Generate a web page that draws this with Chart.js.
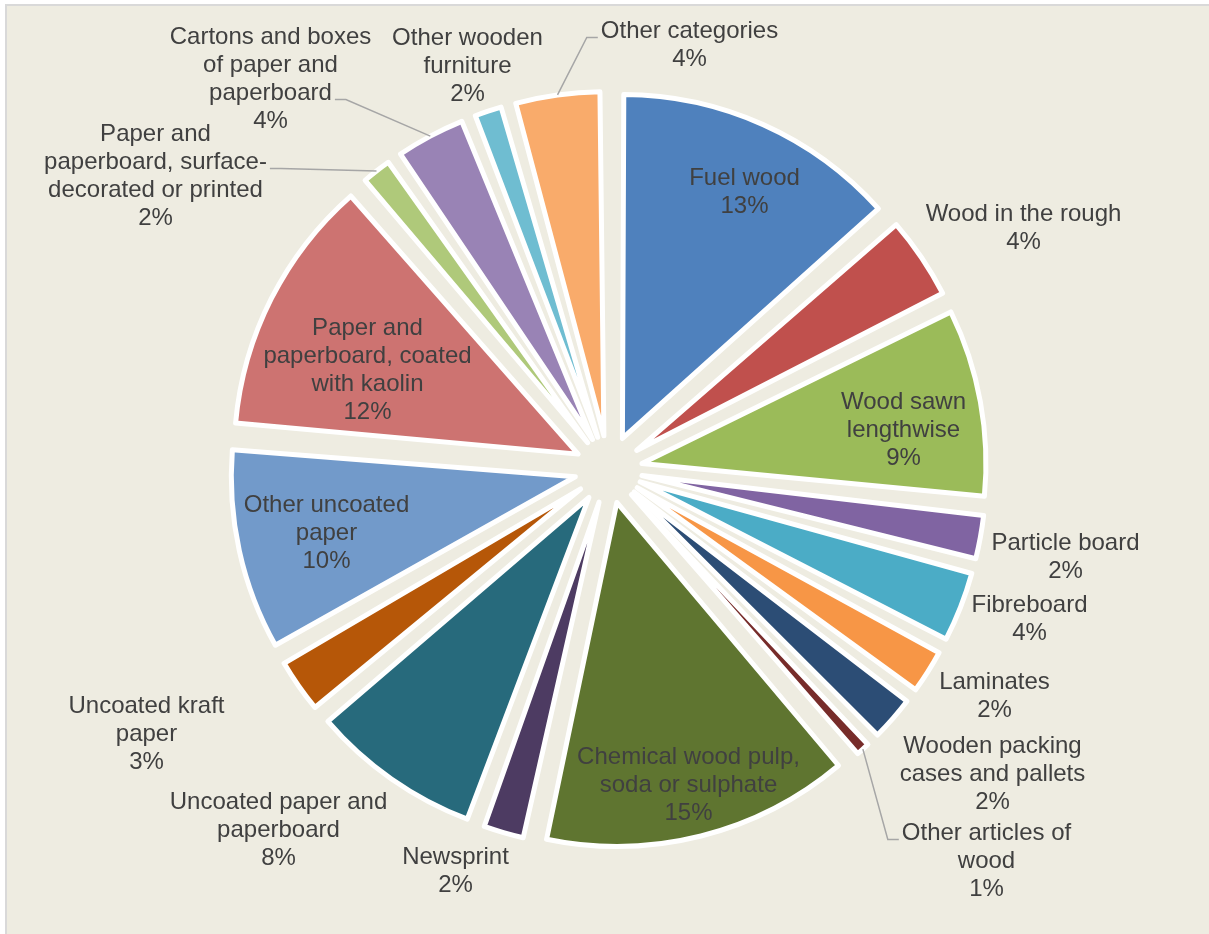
<!DOCTYPE html>
<html>
<head>
<meta charset="utf-8">
<script src="https://cdn.jsdelivr.net/npm/chart.js@4.4.1/dist/chart.umd.min.js"></script>
<style>
  html, body { margin: 0; padding: 0; background: #ffffff; }
  #frame { position: absolute; left: 5px; top: 4px; width: 1204px; height: 930px; box-sizing: border-box;
           border-left: 2px solid #d9d9d9; border-top: 2px solid #d9d9d9; background: #eeece1; }
  #pie { position: absolute; left: 0; top: 0; }
</style>
</head>
<body>
<div id="frame"></div>
<canvas id="pie" width="1209" height="934"></canvas>
<script>
// categories, clockwise from 12 o'clock (each entry = wrapped label lines)
const categories = [
  ['Fuel wood'],
  ['Wood in the rough'],
  ['Wood sawn', 'lengthwise'],
  ['Particle board'],
  ['Fibreboard'],
  ['Laminates'],
  ['Wooden packing', 'cases and pallets'],
  ['Other articles of', 'wood'],
  ['Chemical wood pulp,', 'soda or sulphate'],
  ['Newsprint'],
  ['Uncoated paper and', 'paperboard'],
  ['Uncoated kraft', 'paper'],
  ['Other uncoated', 'paper'],
  ['Paper and', 'paperboard, coated', 'with kaolin'],
  ['Paper and', 'paperboard, surface-', 'decorated or printed'],
  ['Cartons and boxes', 'of paper and', 'paperboard'],
  ['Other wooden', 'furniture'],
  ['Other categories']
];

// share of total, %
const shares = [13.4, 4.2, 9.0, 2.45, 3.65, 2.45, 2.49, 1.1, 14.5, 2.3, 8.2, 2.9, 9.6, 12.2, 1.8, 3.6, 1.7, 4.3];

const colours = ['#4f81bd', '#c0504d', '#9bbb59', '#8064a2', '#4bacc6', '#f79646', '#2c4d75', '#772c2a', '#5f7530',
                 '#4d3b62', '#276a7c', '#b65708', '#729aca', '#cd7371', '#afc97a', '#9983b5', '#6fbdd1', '#f9ab6b'];

// label block centre, relative to the pie centre
const labelOffsets = [
  [136, -277], [415, -241], [295, -39], [457, 88], [421, 150], [386, 227], [384, 305], [378, 392], [80, 316],
  [-153, 402], [-330, 361], [-462, 265], [-282, 64], [-241, -99], [-453, -293], [-338, -390], [-141, -403], [81, -424]
];

// leader lines: slice index -> which label line, and on which side of it
const leaders = { 7: { line: 0, side: 'left' }, 14: { line: 1, side: 'right' }, 15: { line: 2, side: 'right' }, 17: { line: 0, side: 'left' } };

const LINE = 28;

// chart.js grows small exploded slices; keep all radii equal
const evenRadius = {
  id: 'evenRadius',
  afterUpdate(chart) {
    const meta = chart.getDatasetMeta(0);
    const r = meta.controller.outerRadius;
    meta.data.forEach(arc => {
      const shift = (arc.options.offset || 0) / 4;
      const fix = 1 - Math.sin(Math.min(Math.PI, arc.circumference));
      arc.outerRadius = r - shift * fix;
    });
  }
};

const sliceLabels = {
  id: 'sliceLabels',
  afterDatasetsDraw(chart) {
    const ctx = chart.ctx;
    const meta = chart.getDatasetMeta(0);
    const R = meta.controller.outerRadius;
    const total = shares.reduce((a, b) => a + b, 0);
    ctx.save();
    ctx.font = '24px "Liberation Sans", Arial, sans-serif';
    ctx.textAlign = 'center';
    ctx.textBaseline = 'middle';
    meta.data.forEach((arc, i) => {
      const cx = arc.x, cy = arc.y;
      const lines = categories[i].concat(Math.round(shares[i] / total * 100) + '%');
      const x = cx + labelOffsets[i][0];
      const top = cy + labelOffsets[i][1] - (lines.length - 1) * LINE / 2;

      const ld = leaders[i];
      if (ld) {
        const mid = (arc.startAngle + arc.endAngle) / 2;
        const dist = (arc.options.offset || 0) / 4 + R;
        const px = cx + Math.cos(mid) * dist, py = cy + Math.sin(mid) * dist;
        const dir = ld.side === 'left' ? -1 : 1;
        const ly = top + ld.line * LINE + 6;
        const ex = x + dir * (ctx.measureText(lines[ld.line]).width / 2 + 3);
        ctx.strokeStyle = '#a6a6a6';
        ctx.lineWidth = 1.5;
        ctx.beginPath();
        ctx.moveTo(ex, ly);
        ctx.lineTo(ex + dir * 11, ly);
        ctx.lineTo(px, py);
        ctx.stroke();
      }

      ctx.fillStyle = '#404040';
      lines.forEach((t, k) => ctx.fillText(t, x, top + k * LINE));
    });
    ctx.restore();
  }
};

new Chart(document.getElementById('pie'), {
  type: 'pie',
  data: {
    labels: categories,
    datasets: [{
      data: shares,
      backgroundColor: colours,
      borderColor: '#ffffff',
      borderWidth: 5,
      borderJoinStyle: 'round',
      offset: 136,
      radius: 344
    }]
  },
  options: {
    responsive: false,
    animation: false,
    events: [],
    layout: { padding: { left: 8, top: 5 } },
    plugins: { legend: { display: false }, tooltip: { enabled: false } }
  },
  plugins: [evenRadius, sliceLabels]
});
</script>
</body>
</html>
